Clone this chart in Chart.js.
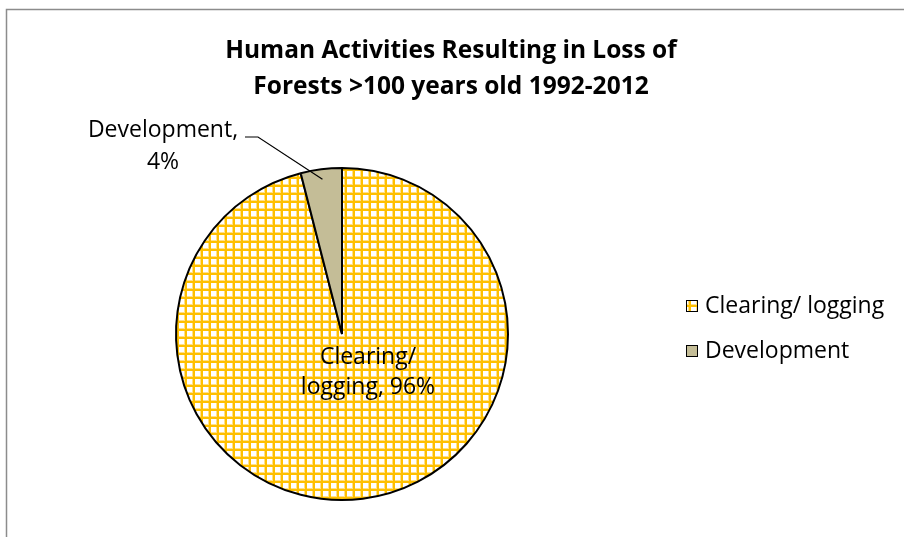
<!DOCTYPE html>
<html>
<head>
<meta charset="utf-8">
<script src="https://cdn.jsdelivr.net/npm/chart.js@4.4.1/dist/chart.umd.min.js"></script>
<style>
  html, body { margin: 0; padding: 0; background: #fff; }
  #wrap { position: relative; width: 904px; height: 537px; }
</style>
</head>
<body>
<div id="wrap"><canvas id="pie" width="904" height="537"></canvas></div>
<script>
// ---- DATA ----
const categories = ["Clearing/ logging", "Development"];
const shares = [96, 4];
const titleLines = ["Human Activities Resulting in Loss of", "Forests >100 years old 1992-2012"];

const FONT = "'Open Sans', 'Noto Sans', sans-serif";

// ---- YELLOW GRID PATTERN ----
function gridPattern() {
  const c = document.createElement("canvas");
  c.width = 8; c.height = 8;
  const g = c.getContext("2d");
  g.fillStyle = "#ffffff";
  g.fillRect(0, 0, 8, 8);
  g.fillStyle = "#ffe08a";
  g.fillRect(0, 0, 3, 8);
  g.fillRect(0, 0, 8, 3);
  g.fillStyle = "#ffc000";
  g.fillRect(1, 0, 2, 8);
  g.fillRect(0, 1, 8, 2);
  return g.createPattern(c, "repeat");
}

const ctx0 = document.getElementById("pie").getContext("2d");
const fills = [gridPattern(), "#c4bd97"];

// ---- FRAME, TITLE, LABELS, LEGEND ----
const decorations = {
  id: "decorations",
  beforeDraw(chart) {
    const ctx = chart.ctx;
    ctx.save();
    ctx.fillStyle = "#fff";
    ctx.fillRect(0, 0, chart.width, chart.height);
    ctx.strokeStyle = "#8c8c8c";
    ctx.lineWidth = 1.5;
    ctx.beginPath();
    ctx.moveTo(6.5, chart.height);
    ctx.lineTo(6.5, 9.5);
    ctx.lineTo(chart.width, 9.5);
    ctx.stroke();
    ctx.restore();
  },
  afterDraw(chart) {
    const ctx = chart.ctx;
    const arcs = chart.getDatasetMeta(0).data;
    ctx.save();
    ctx.fillStyle = "#000";
    ctx.textAlign = "center";
    ctx.textBaseline = "middle";

    // title
    ctx.font = "bold 24.5px " + FONT;
    ctx.fillText(titleLines[0], 451, 51);
    ctx.fillText(titleLines[1], 451, 87);

    ctx.font = "23px " + FONT;

    // label inside big slice
    ctx.fillText("Clearing/", 368, 357);
    ctx.fillText("logging, " + shares[0] + "%", 368, 387);

    // outside label for small slice with leader line
    ctx.fillText("Development,", 163, 130);
    ctx.fillText(shares[1] + "%", 163, 162);
    const small = arcs[1];
    const mid = (small.startAngle + small.endAngle) / 2;
    const ex = small.x + Math.cos(mid) * small.outerRadius * 0.94;
    const ey = small.y + Math.sin(mid) * small.outerRadius * 0.94;
    ctx.strokeStyle = "#000";
    ctx.lineWidth = 1.2;
    ctx.beginPath();
    ctx.moveTo(245, 137);
    ctx.lineTo(258, 137);
    ctx.lineTo(ex, ey);
    ctx.stroke();

    // legend
    ctx.textAlign = "left";
    const rows = [306, 351];
    categories.forEach((name, i) => {
      ctx.fillStyle = fills[i];
      ctx.fillRect(686, rows[i] - 6, 11, 11);
      ctx.strokeStyle = "#000";
      ctx.lineWidth = 1;
      ctx.strokeRect(686.5, rows[i] - 5.5, 11, 11);
      ctx.fillStyle = "#000";
      ctx.fillText(name, 705, rows[i]);
    });
    ctx.restore();
  }
};

new Chart(ctx0, {
  type: "pie",
  data: {
    labels: categories,
    datasets: [{
      data: shares,
      backgroundColor: fills,
      borderColor: "#000",
      borderWidth: 2,
      borderAlign: "center"
    }]
  },
  options: {
    responsive: false,
    animation: false,
    layout: { padding: { left: 175, right: 395, top: 167, bottom: 36 } },
    plugins: {
      legend: { display: false },
      title: { display: false },
      tooltip: { enabled: false }
    }
  },
  plugins: [decorations]
});
</script>
</body>
</html>
